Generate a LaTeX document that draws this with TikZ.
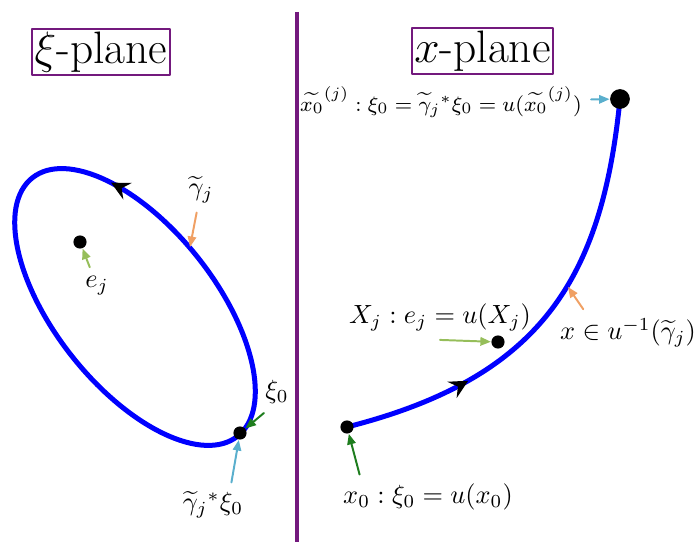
\documentclass[tikz,border=0pt]{standalone}
\usetikzlibrary{arrows.meta,decorations.markings}
\definecolor{planepurple}{RGB}{115,25,125}
\definecolor{gammaorange}{RGB}{240,160,100}
\definecolor{pointgreen}{RGB}{150,190,90}
\definecolor{basegreen}{RGB}{30,125,30}
\definecolor{liftblue}{RGB}{90,175,205}
\begin{document}
\begin{tikzpicture}[x=0.38pt, y=0.38pt, line join=round, line cap=round, >={Triangle[length=4pt,width=3.2pt]},
	planebox/.style={draw=planepurple, line width=0.6pt, inner sep=1pt, font=\LARGE},
	dot/.style={circle, fill=black, inner sep=0pt, minimum size=5pt},
	bigdot/.style={dot, minimum size=7.5pt},
	pathline/.style={blue, line width=1.9pt},
	pointer/.style={->, line width=0.75pt},
	flowmark/.style={postaction={decorate}, decoration={markings, mark=at position #1 with {\arrow[black]{Stealth[length=7pt,width=7pt,inset=2.5pt]}}}}]
		\useasboundingbox (0,0) rectangle (699,-542);
		% divider between the two planes
		\coordinate (divtop) at (297,-12);
		\coordinate (divbot) at (297,-542);
		\draw[planepurple, line width=1.2pt, line cap=butt] (divtop) -- (divbot);
		\node[planebox] (xiplane) at (101,-52) {$\xi$-plane};
		\node[planebox] (xplane) at (482.5,-51) {$x$-plane};
		% curves
		\coordinate (pej) at (80,-242);
		\coordinate (pxi0) at (240,-433);
		\coordinate (px0) at (347,-427);
		\coordinate (pXj) at (498,-342);
		\coordinate (pxt0) at (620,-99);
		\coordinate (loopc) at (135,-307);
		\draw[pathline, flowmark=0.395, rotate around={-51.5:(loopc)}] (loopc) ellipse [x radius=165, y radius=80];
		\draw[pathline, flowmark=0.28] (px0) .. controls (540,-378) and (602,-280) .. (pxt0);
		\coordinate (gamc) at (190,-247);
		\coordinate (curvx) at (568,-287);
		% points
		\node[dot] (ej) at (pej) {};
		\node[dot] (xi0) at (pxi0) {};
		\node[dot] (x0) at (px0) {};
		\node[dot] (Xj) at (pXj) {};
		\node[bigdot] (xt0) at (pxt0) {};
		% labels
		\node (lgam) at (201,-190) {$\widetilde{\gamma}_j$};
		\node (lej) at (97,-286) {$e_j$};
		\node (lxi0) at (277,-392) {$\xi_0$};
		\node (lgxi) at (213,-505) {$\widetilde{\gamma}_j{}^*\xi_0$};
		\node[font=\fontsize{8.5}{10}\selectfont] (lxt0) at (441,-102) {$\widetilde{x_0}^{(j)} : \xi_0 = \widetilde{\gamma}_j{}^*\xi_0 = u(\widetilde{x_0}^{(j)})$};
		\node (lXj) at (440,-317) {$X_j : e_j = u(X_j)$};
		\node (lxinv) at (628,-333) {$x \in u^{-1}(\widetilde{\gamma}_j)$};
		\node (lx0) at (428,-497) {$x_0 : \xi_0 = u(x_0)$};
		% pointers
		\draw[pointer, gammaorange] (lgam) -- (gamc);
		\draw[pointer, pointgreen] (lej) -- (ej);
		\draw[pointer, basegreen] ([xshift=3pt]lxi0.south west) -- (xi0);
		\draw[pointer, liftblue] ([xshift=7pt]lgxi.north) -- (xi0);
		\draw[pointer, liftblue] (lxt0) -- (xt0);
		\draw[pointer, pointgreen] (lXj.south) -- (Xj);
		\draw[pointer, gammaorange] ([xshift=-17pt]lxinv.north) -- (curvx);
		\draw[pointer, basegreen] ([xshift=-26pt]lx0.north) -- (x0);
	\end{tikzpicture}
\end{document}
